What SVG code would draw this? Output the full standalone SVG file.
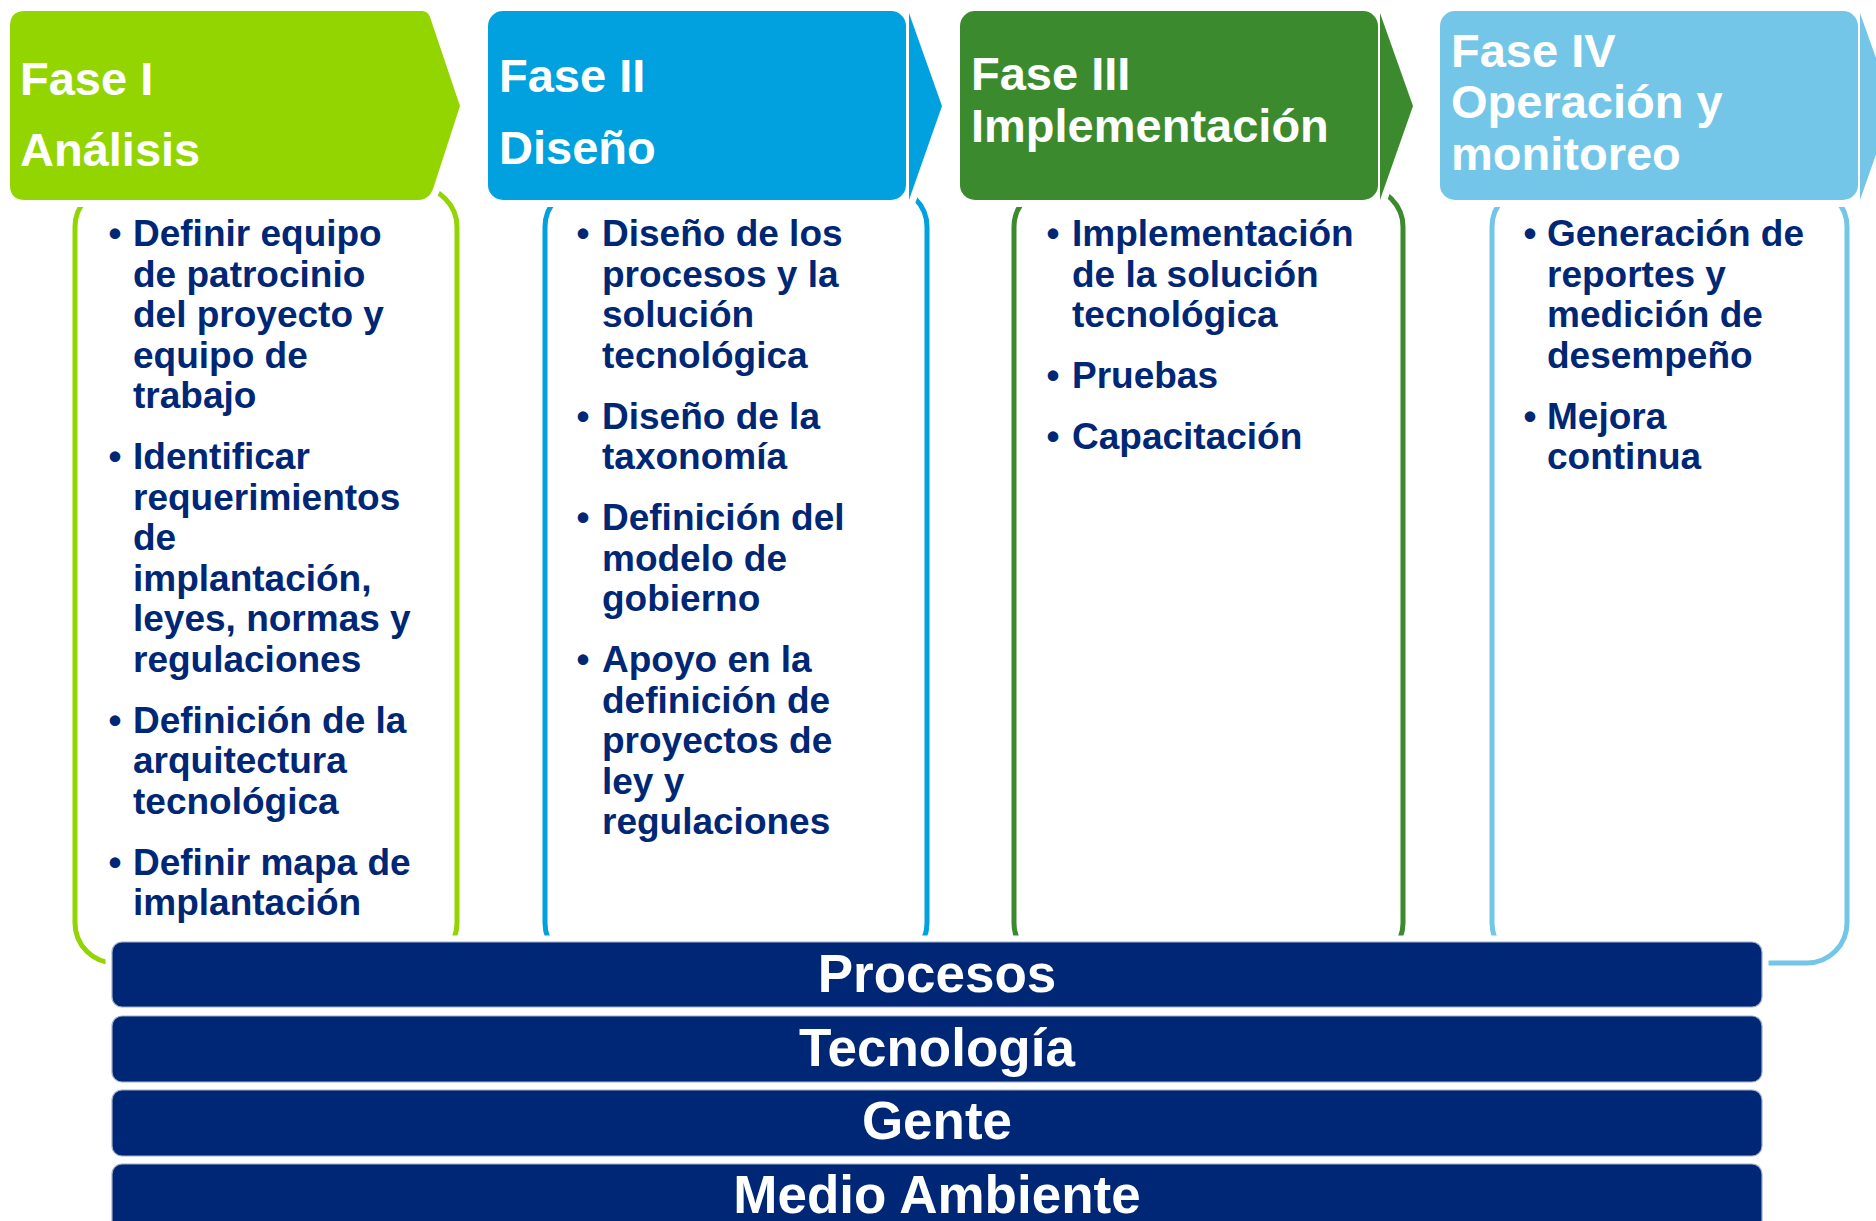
<svg xmlns="http://www.w3.org/2000/svg" width="1876" height="1221" viewBox="0 0 1876 1221">
<style>
.box{fill:none;stroke-width:5}
.halo{fill:#fff;stroke:#fff;stroke-width:14;stroke-linejoin:round}
.ht{font-family:"Liberation Sans",Arial,sans-serif;font-weight:bold;font-size:47px;fill:#fff}
.bt{font-family:"Liberation Sans",Arial,sans-serif;font-weight:bold;font-size:37px;fill:#002776}
.bar{fill:#002776;stroke:#9fadc9;stroke-width:1.2}
.barhalo{fill:#fff;stroke:#fff;stroke-width:13}
.bart{font-family:"Liberation Sans",Arial,sans-serif;font-weight:bold;font-size:53px;fill:#fff;text-anchor:middle}
.c1{stroke:#93D500;fill:#93D500}
.c2{stroke:#00A1DE;fill:#00A1DE}
.c3{stroke:#3C8A2E;fill:#3C8A2E}
.c4{stroke:#73C6E7;fill:#73C6E7}
</style>
<rect width="1876" height="1221" fill="#fff"/>

<g id="fase1">
<rect class="box" x="75" y="187" width="382" height="776" rx="40" style="stroke:#93D500"/>
<path class="halo" d="M25,11 H422 Q428,11 430,17 L460,106 L434,186 Q430,200 418,200 H25 Q10,200 10,185 V26 Q10,11 25,11 Z"/>
<path d="M25,11 H422 Q428,11 430,17 L460,106 L434,186 Q430,200 418,200 H25 Q10,200 10,185 V26 Q10,11 25,11 Z" fill="#93D500"/>
<text class="ht"><tspan x="20" y="95">Fase I</tspan><tspan x="20" y="166">Análisis</tspan></text>
<text class="bt">
<tspan x="115" y="246" text-anchor="middle">•</tspan><tspan x="133" y="246">Definir equipo</tspan>
<tspan x="133" y="286.5">de patrocinio</tspan>
<tspan x="133" y="327">del proyecto y</tspan>
<tspan x="133" y="367.5">equipo de</tspan>
<tspan x="133" y="408">trabajo</tspan>
<tspan x="115" y="469" text-anchor="middle">•</tspan><tspan x="133" y="469">Identificar</tspan>
<tspan x="133" y="509.5">requerimientos</tspan>
<tspan x="133" y="550">de</tspan>
<tspan x="133" y="590.5">implantación,</tspan>
<tspan x="133" y="631">leyes, normas y</tspan>
<tspan x="133" y="671.5">regulaciones</tspan>
<tspan x="115" y="732.5" text-anchor="middle">•</tspan><tspan x="133" y="732.5">Definición de la</tspan>
<tspan x="133" y="773">arquitectura</tspan>
<tspan x="133" y="813.5">tecnológica</tspan>
<tspan x="115" y="874.5" text-anchor="middle">•</tspan><tspan x="133" y="874.5">Definir mapa de</tspan>
<tspan x="133" y="915">implantación</tspan>
</text>
</g>

<g id="fase2">
<rect class="box" x="545" y="187" width="382" height="776" rx="40" style="stroke:#00A1DE"/>
<rect class="halo" x="488" y="11" width="418" height="189" rx="15"/>
<path class="halo" d="M909,13 L942,106 L909,200 Z"/>
<rect x="488" y="11" width="418" height="189" rx="15" fill="#00A1DE"/>
<path d="M909,13 L942,106 L909,200 Z" fill="#00A1DE"/>
<text class="ht"><tspan x="499" y="92">Fase II</tspan><tspan x="499" y="164">Diseño</tspan></text>
<text class="bt">
<tspan x="583" y="246" text-anchor="middle">•</tspan><tspan x="602" y="246">Diseño de los</tspan>
<tspan x="602" y="286.5">procesos y la</tspan>
<tspan x="602" y="327">solución</tspan>
<tspan x="602" y="367.5">tecnológica</tspan>
<tspan x="583" y="428.5" text-anchor="middle">•</tspan><tspan x="602" y="428.5">Diseño de la</tspan>
<tspan x="602" y="469">taxonomía</tspan>
<tspan x="583" y="530" text-anchor="middle">•</tspan><tspan x="602" y="530">Definición del</tspan>
<tspan x="602" y="570.5">modelo de</tspan>
<tspan x="602" y="611">gobierno</tspan>
<tspan x="583" y="672" text-anchor="middle">•</tspan><tspan x="602" y="672">Apoyo en la</tspan>
<tspan x="602" y="712.5">definición de</tspan>
<tspan x="602" y="753">proyectos de</tspan>
<tspan x="602" y="793.5">ley y</tspan>
<tspan x="602" y="834">regulaciones</tspan>
</text>
</g>

<g id="fase3">
<rect class="box" x="1014" y="187" width="389" height="776" rx="40" style="stroke:#3C8A2E"/>
<rect class="halo" x="960" y="11" width="418" height="189" rx="15"/>
<path class="halo" d="M1380,13 L1413,106 L1380,200 Z"/>
<rect x="960" y="11" width="418" height="189" rx="15" fill="#3C8A2E"/>
<path d="M1380,13 L1413,106 L1380,200 Z" fill="#3C8A2E"/>
<text class="ht"><tspan x="971" y="90">Fase III</tspan><tspan x="971" y="142">Implementación</tspan></text>
<text class="bt">
<tspan x="1053" y="246" text-anchor="middle">•</tspan><tspan x="1072" y="246">Implementación</tspan>
<tspan x="1072" y="286.5">de la solución</tspan>
<tspan x="1072" y="327">tecnológica</tspan>
<tspan x="1053" y="388" text-anchor="middle">•</tspan><tspan x="1072" y="388">Pruebas</tspan>
<tspan x="1053" y="449" text-anchor="middle">•</tspan><tspan x="1072" y="449">Capacitación</tspan>
</text>
</g>

<g id="fase4">
<rect class="box" x="1492" y="187" width="355" height="776" rx="40" style="stroke:#73C6E7"/>
<rect class="halo" x="1440" y="11" width="418" height="189" rx="15"/>
<path class="halo" d="M1860,13 L1893,106 L1860,200 Z"/>
<rect x="1440" y="11" width="418" height="189" rx="15" fill="#73C6E7"/>
<path d="M1860,13 L1893,106 L1860,200 Z" fill="#73C6E7"/>
<text class="ht"><tspan x="1451" y="67">Fase IV</tspan><tspan x="1451" y="118">Operación y</tspan><tspan x="1451" y="170">monitoreo</tspan></text>
<text class="bt">
<tspan x="1530" y="246" text-anchor="middle">•</tspan><tspan x="1547" y="246">Generación de</tspan>
<tspan x="1547" y="286.5">reportes y</tspan>
<tspan x="1547" y="327">medición de</tspan>
<tspan x="1547" y="367.5">desempeño</tspan>
<tspan x="1530" y="428.5" text-anchor="middle">•</tspan><tspan x="1547" y="428.5">Mejora</tspan>
<tspan x="1547" y="469">continua</tspan>
</text>
</g>

<g id="connectors"></g>

<g id="bar-procesos">
<rect class="barhalo" x="112" y="942" width="1650" height="65" rx="10"/>
<rect class="bar" x="112" y="942" width="1650" height="65" rx="10"/>
<text class="bart" x="937" y="992">Procesos</text>
</g>
<g id="bar-tecnologia">
<rect class="barhalo" x="112" y="1016" width="1650" height="66" rx="10"/>
<rect class="bar" x="112" y="1016" width="1650" height="66" rx="10"/>
<text class="bart" x="937" y="1066">Tecnología</text>
</g>
<g id="bar-gente">
<rect class="barhalo" x="112" y="1090" width="1650" height="66" rx="10"/>
<rect class="bar" x="112" y="1090" width="1650" height="66" rx="10"/>
<text class="bart" x="937" y="1139">Gente</text>
</g>
<g id="bar-medio-ambiente">
<rect class="barhalo" x="112" y="1164" width="1650" height="70" rx="10"/>
<rect class="bar" x="112" y="1164" width="1650" height="70" rx="10"/>
<text class="bart" x="937" y="1213">Medio Ambiente</text>
</g>
</svg>
